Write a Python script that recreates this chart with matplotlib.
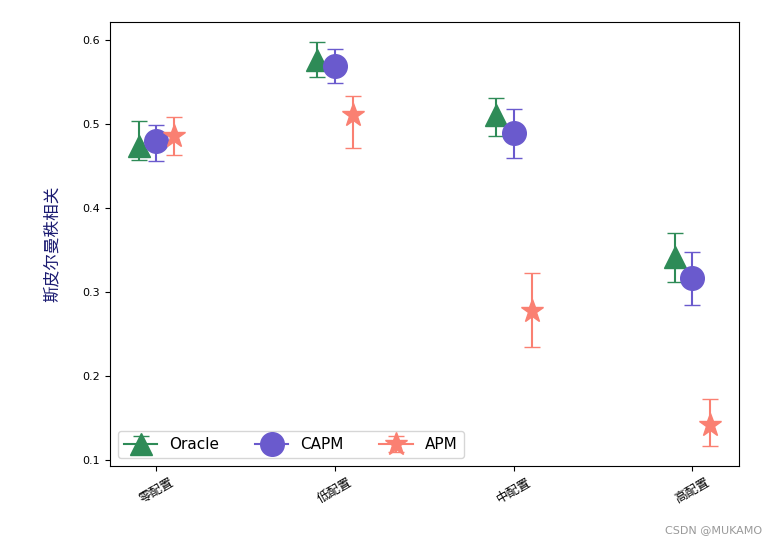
import numpy as np
import matplotlib
matplotlib.use('Agg')
import matplotlib.pyplot as plt

plt.rcParams['font.family'] = ['DejaVu Sans', 'Noto Sans CJK SC']

categories = ['零配置', '低配置', '中配置', '高配置']
oracle_mean = [0.474, 0.576, 0.510, 0.342]
oracle_lo = [0.017, 0.020, 0.024, 0.030]
oracle_hi = [0.029, 0.021, 0.021, 0.028]
capm_mean = [0.479, 0.569, 0.489, 0.317]
capm_lo = [0.023, 0.021, 0.030, 0.033]
capm_hi = [0.020, 0.020, 0.029, 0.030]
apm_mean = [0.486, 0.511, 0.277, 0.142]
apm_lo = [0.023, 0.040, 0.043, 0.025]
apm_hi = [0.022, 0.022, 0.046, 0.031]

x = np.arange(len(categories))

fig = plt.figure(figsize=(7.77, 5.45), dpi=100)
ax = fig.add_axes([0.1416, 0.145, 0.8094, 0.8146])

series = [
    ('Oracle', oracle_mean, oracle_lo, oracle_hi, '^', 'seagreen', 16, -0.1),
    ('CAPM', capm_mean, capm_lo, capm_hi, 'o', 'slateblue', 17, 0.0),
    ('APM', apm_mean, apm_lo, apm_hi, '*', 'salmon', 17, 0.1),
]

# one point at a time, label only on the first
for name, means, lo, hi, marker, color, ms, off in series:
    for i in range(len(categories)):
        ax.errorbar(x[i] + off, means[i], yerr=[[lo[i]], [hi[i]]], marker=marker,
                    linestyle='-', color=color, markersize=ms, capsize=6,
                    label=name if i == 0 else None)

ax.set_xticks(x)
ax.set_xticklabels(categories, rotation=30, fontsize=9,
                   family=['Noto Sans CJK SC', 'DejaVu Sans'])
ax.tick_params(axis='y', labelsize=8)
ax.set_ylabel('斯皮尔曼秩相关', fontsize=12, color='midnightblue',
              family=['Noto Sans CJK SC', 'DejaVu Sans'], labelpad=16)

ax.legend(loc='lower left', ncol=3, fontsize=11,
          handlelength=2.2, columnspacing=2.3)

fig.text(0.981, 0.018, 'CSDN @MUKAMO', ha='right', va='bottom', fontsize=8, color='#999999')

plt.savefig('out.png', dpi=100)
